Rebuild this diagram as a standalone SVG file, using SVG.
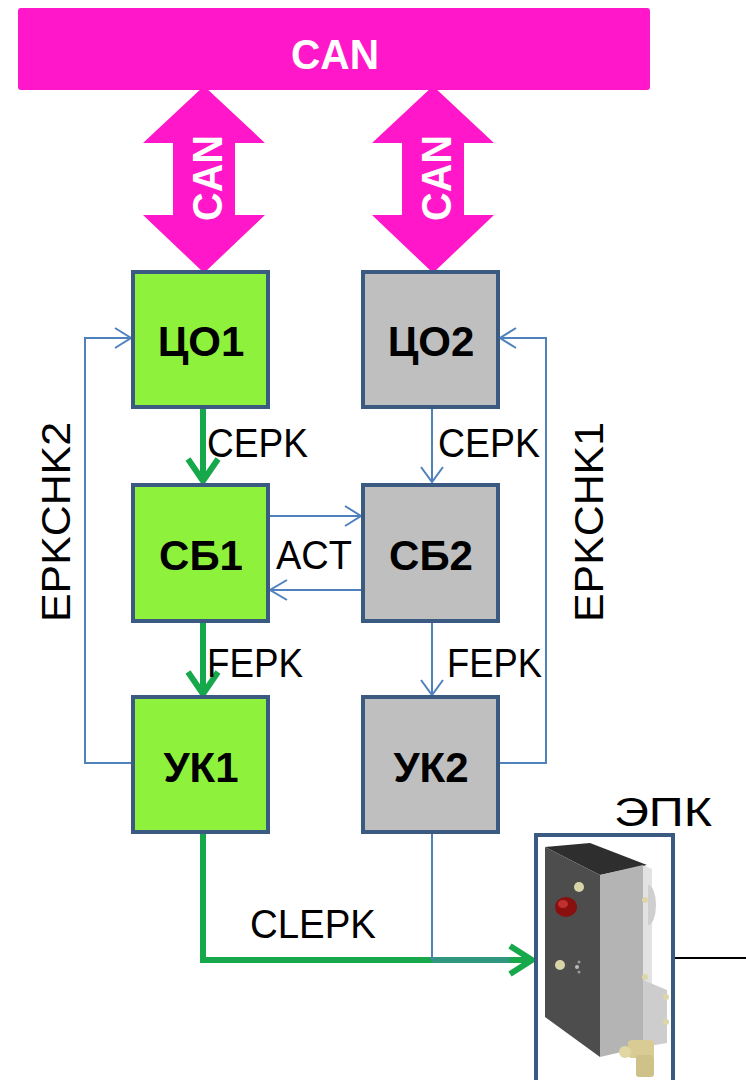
<svg xmlns="http://www.w3.org/2000/svg" width="746" height="1080" viewBox="0 0 746 1080">
<style>
.can{fill:#FF17C9}
.box{stroke:#3A5A82;stroke-width:4}
.g{fill:#8EF23C}
.gr{fill:#BFBFBF}
.nl{font-family:"Liberation Sans",Arial,sans-serif;font-weight:bold;font-size:42px;fill:#000;text-anchor:middle}
.lb{font-family:"Liberation Sans",Arial,sans-serif;font-size:41px;fill:#000}
.cw{font-family:"Liberation Sans",Arial,sans-serif;font-weight:bold;font-size:42px;fill:#fff;text-anchor:middle}
.bl{fill:none;stroke:#4F81BD;stroke-width:2}
.gl{fill:none;stroke:#17A84B;stroke-width:6}
</style>
<rect width="746" height="1080" fill="#fff"/>
<g id="can-bus">
<rect class="can" x="18" y="8" width="632" height="82" rx="3"/>
<text class="cw" x="335" y="69" textLength="88" lengthAdjust="spacingAndGlyphs">CAN</text>
</g>
<g id="can-link-1">
<polygon class="can" points="204,86 265,143 235,143 235,215 265,215 204,273 143,215 173,215 173,143 143,143"/>
<text class="cw" transform="translate(222,178) rotate(-90)" x="0" y="0" textLength="86" lengthAdjust="spacingAndGlyphs">CAN</text>
</g>
<g id="can-link-2">
<polygon class="can" points="433,86 494,143 464,143 464,215 494,215 433,273 372,215 402,215 402,143 372,143"/>
<text class="cw" transform="translate(451,178) rotate(-90)" x="0" y="0" textLength="86" lengthAdjust="spacingAndGlyphs">CAN</text>
</g>
<g id="connectors">
<line class="gl" x1="203" y1="408" x2="203" y2="480"/>
<polyline class="gl" points="188,459 203,481 218,459"/>
<line class="bl" x1="432" y1="408" x2="432" y2="482"/>
<polyline class="bl" points="421,467 432,482 443,467"/>
<line class="bl" x1="270" y1="516" x2="361" y2="516"/>
<polyline class="bl" points="345,506 361,516 345,526"/>
<line class="bl" x1="361" y1="590" x2="270" y2="590"/>
<polyline class="bl" points="287,580 270,590 287,600"/>
<line class="gl" x1="203" y1="623" x2="203" y2="693"/>
<polyline class="gl" points="188,672 203,694 218,672"/>
<line class="bl" x1="432" y1="623" x2="432" y2="695"/>
<polyline class="bl" points="421,680 432,695 443,680"/>
<polyline class="bl" points="131,763 85,763 85,338 131,338"/>
<polyline class="bl" points="115,328 131,338 115,348"/>
<polyline class="bl" points="500,763 546,763 546,338 500,338"/>
<polyline class="bl" points="516,328 500,338 516,348"/>
<polyline class="gl" points="203,834 203,960 531,960"/>
<line x1="432" y1="960" x2="510" y2="960" stroke="#4F81BD" stroke-width="6" opacity="0.45"/>
<polyline class="gl" points="510,946 532,960 510,974"/>
<line class="bl" x1="432" y1="834" x2="432" y2="960"/>
<line x1="674" y1="958" x2="746" y2="958" stroke="#000" stroke-width="2"/>
<text class="lb" x="207" y="457" textLength="101" lengthAdjust="spacingAndGlyphs">CEPK</text>
<text class="lb" x="438" y="457" textLength="102" lengthAdjust="spacingAndGlyphs">CEPK</text>
<text class="lb" x="276" y="569" textLength="76" lengthAdjust="spacingAndGlyphs">ACT</text>
<text class="lb" x="207" y="677" textLength="96" lengthAdjust="spacingAndGlyphs">FEPK</text>
<text class="lb" x="447" y="677" textLength="95" lengthAdjust="spacingAndGlyphs">FEPK</text>
<text class="lb" x="250" y="938" textLength="126" lengthAdjust="spacingAndGlyphs">CLEPK</text>
<text class="lb" transform="translate(70,522) rotate(-90)" text-anchor="middle" textLength="200" lengthAdjust="spacingAndGlyphs">EPKCHK2</text>
<text class="lb" transform="translate(603,522) rotate(-90)" text-anchor="middle" textLength="200" lengthAdjust="spacingAndGlyphs">EPKCHK1</text>
</g>
<g id="CO1"><rect class="box g" x="133" y="272" width="135" height="135"/><text class="nl" x="201" y="356">ЦО1</text></g>
<g id="CO2"><rect class="box gr" x="363" y="272" width="135" height="135"/><text class="nl" x="431" y="356">ЦО2</text></g>
<g id="SB1"><rect class="box g" x="133" y="485" width="135" height="136"/><text class="nl" x="201" y="570">СБ1</text></g>
<g id="SB2"><rect class="box gr" x="363" y="485" width="135" height="136"/><text class="nl" x="431" y="570">СБ2</text></g>
<g id="UK1"><rect class="box g" x="133" y="697" width="135" height="135"/><text class="nl" x="201" y="782">УК1</text></g>
<g id="UK2"><rect class="box gr" x="363" y="697" width="135" height="135"/><text class="nl" x="431" y="782">УК2</text></g>
<g id="EPK">
<text class="lb" x="614" y="826" textLength="98" lengthAdjust="spacingAndGlyphs">ЭПК</text>
<rect x="536" y="835" width="137" height="250" fill="#fff" stroke="#3A5A82" stroke-width="4"/>
<polygon points="643,865 652,869 652,1040 643,1047" fill="#e2e2e2"/>
<path d="M648,885 a8,20 0 0 1 0,40 z" fill="#cfcfcf"/>
<polygon points="643,980 667,990 667,1043 643,1047" fill="#cdcdcd"/>
<polygon points="545,847 590,843 647,865 600,875" fill="#2e2e2e"/>
<polygon points="545,847 600,875 600,1057 545,1017" fill="#4d4d4d"/>
<polygon points="600,875 643,865 643,1047 600,1057" fill="#b4b4b4"/>
<ellipse cx="566" cy="907" rx="11" ry="10" fill="#8a1010"/>
<ellipse cx="563" cy="904" rx="5" ry="4" fill="#c03030"/>
<circle cx="579" cy="887" r="5" fill="#d9d4a8"/>
<circle cx="560" cy="965" r="5" fill="#d9d4a8"/>
<circle cx="579" cy="962" r="1.5" fill="#999"/>
<circle cx="577" cy="967" r="2" fill="#bbb"/>
<circle cx="579" cy="972" r="1.5" fill="#999"/>
<circle cx="645" cy="900" r="3" fill="#ddd6a8"/>
<circle cx="645" cy="977" r="3" fill="#ddd6a8"/>
<circle cx="666" cy="997" r="3" fill="#ddd6a8"/>
<circle cx="666" cy="1022" r="3" fill="#ddd6a8"/>
<rect x="628" y="1040" width="26" height="18" rx="4" fill="#d8cc94"/>
<rect x="636" y="1055" width="18" height="22" rx="3" fill="#cfc288"/>
<circle cx="625" cy="1052" r="6" fill="#e0d7a5"/>
</g>
</svg>
